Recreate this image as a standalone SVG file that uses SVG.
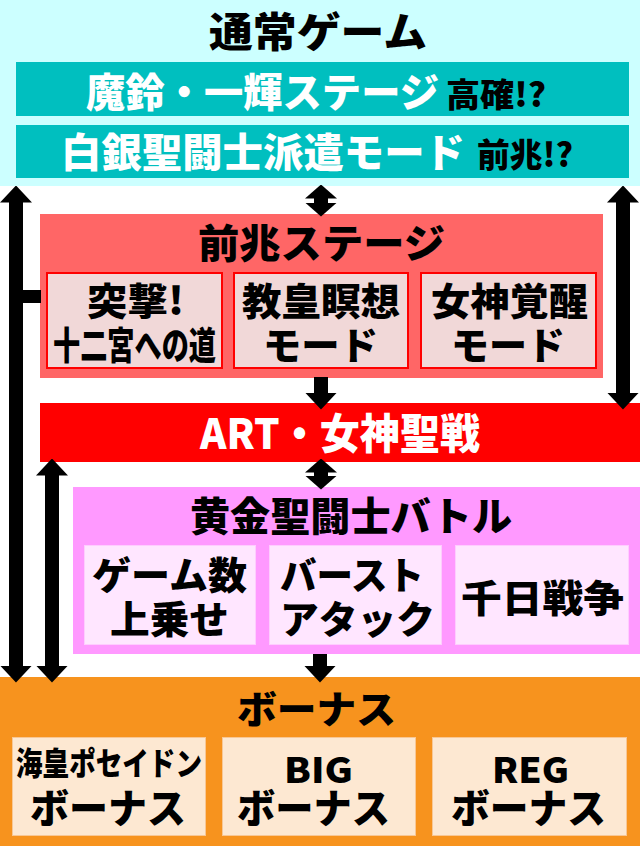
<svg xmlns="http://www.w3.org/2000/svg" width="640" height="846" viewBox="0 0 640 846">
<style>
text{font-family:"Noto Sans CJK JP","Noto Sans",sans-serif;font-weight:900;dominant-baseline:central;fill:#000}
.w{fill:#fff}
.s{lengthAdjust:spacingAndGlyphs}
.teal{fill:#00bfbf}
.sub1{fill:#f1d8d8;stroke:#ff0000;stroke-width:2}
.sub2{fill:#ffe6ff;stroke:#ffccff;stroke-width:1}
.sub3{fill:#fde8d2;stroke:#f8c795;stroke-width:1}
.conn line{stroke:#000;stroke-width:14}
</style>
<defs>
<marker id="ah" viewBox="0 0 17 32" refX="0.5" refY="16" markerWidth="17" markerHeight="32" markerUnits="userSpaceOnUse" orient="auto-start-reverse"><path d="M0,0 L17,16 L0,32 Z" fill="#000"/></marker>
<marker id="ahs" viewBox="0 0 14 32" refX="0.5" refY="16" markerWidth="14" markerHeight="32" markerUnits="userSpaceOnUse" orient="auto-start-reverse"><path d="M0,0 L14,16 L0,32 Z" fill="#000"/></marker>
</defs>
<rect width="640" height="846" fill="#fff"/>

<g id="normal">
<rect x="0" y="0" width="640" height="186" fill="#ccffff"/>
<text x="209" y="29" font-size="41" textLength="218" lengthAdjust="spacingAndGlyphs">通常ゲーム</text>
</g>
<g id="marin">
<rect class="teal" x="16" y="62" width="613" height="54"/>
<text class="w" x="86" y="90" font-size="40" textLength="353" lengthAdjust="spacingAndGlyphs">魔鈴・一輝ステージ</text>
<text x="446" y="93" font-size="33" textLength="100" lengthAdjust="spacingAndGlyphs">高確!?</text>
</g>
<g id="silver">
<rect class="teal" x="16" y="125" width="613" height="53"/>
<text class="w" x="61" y="150" font-size="40" textLength="404" lengthAdjust="spacingAndGlyphs">白銀聖闘士派遣モード</text>
<text x="477" y="153" font-size="33" textLength="96" lengthAdjust="spacingAndGlyphs">前兆!?</text>
</g>

<g id="zencho">
<rect x="40" y="214" width="563" height="164" fill="#ff6666"/>
<text x="198" y="241" font-size="40" textLength="247" lengthAdjust="spacingAndGlyphs">前兆ステージ</text>
</g>
<g id="totsugeki">
<rect class="sub1" x="47" y="273" width="175" height="95"/>
<text x="87" y="298" font-size="38" textLength="97" lengthAdjust="spacingAndGlyphs">突撃!</text>
<text x="53" y="342" font-size="38" textLength="163" lengthAdjust="spacingAndGlyphs">十二宮への道</text>
</g>
<g id="kyoukou">
<rect class="sub1" x="234" y="273" width="174" height="95"/>
<text x="242" y="298" font-size="38" textLength="158" lengthAdjust="spacingAndGlyphs">教皇瞑想</text>
<text x="263" y="342" font-size="38" textLength="115" lengthAdjust="spacingAndGlyphs">モード</text>
</g>
<g id="megami">
<rect class="sub1" x="421" y="273" width="175" height="95"/>
<text x="431" y="298" font-size="38" textLength="157" lengthAdjust="spacingAndGlyphs">女神覚醒</text>
<text x="451" y="342" font-size="38" textLength="114" lengthAdjust="spacingAndGlyphs">モード</text>
</g>

<g id="art">
<rect x="40" y="403" width="600" height="59" fill="#ff0000"/>
<text class="w" x="200" y="430" font-size="42" textLength="280" lengthAdjust="spacingAndGlyphs">ART・女神聖戦</text>
</g>

<g id="gold">
<rect x="73" y="487" width="567" height="167" fill="#ff99ff"/>
<text x="190" y="514" font-size="40" textLength="322" lengthAdjust="spacingAndGlyphs">黄金聖闘士バトル</text>
</g>
<g id="gamesu">
<rect class="sub2" x="84.5" y="545.5" width="171" height="99"/>
<text x="92" y="572" font-size="38" textLength="155" lengthAdjust="spacingAndGlyphs">ゲーム数</text>
<text x="110" y="616" font-size="38" textLength="119" lengthAdjust="spacingAndGlyphs">上乗せ</text>
</g>
<g id="burst">
<rect class="sub2" x="269.5" y="545.5" width="172" height="99"/>
<text x="280" y="572" font-size="38" textLength="144" lengthAdjust="spacingAndGlyphs">バースト</text>
<text x="280" y="616" font-size="38" textLength="155" lengthAdjust="spacingAndGlyphs">アタック</text>
</g>
<g id="sennichi">
<rect class="sub2" x="455.5" y="545.5" width="173" height="99"/>
<text x="461" y="595" font-size="38" textLength="163" lengthAdjust="spacingAndGlyphs">千日戦争</text>
</g>

<g id="bonus">
<rect x="0" y="677" width="640" height="169" fill="#f7931e"/>
<text x="237" y="706" font-size="38" textLength="159" lengthAdjust="spacingAndGlyphs">ボーナス</text>
</g>
<g id="poseidon">
<rect class="sub3" x="12.5" y="737.5" width="193" height="98"/>
<text x="16" y="761" font-size="32" textLength="186" lengthAdjust="spacingAndGlyphs">海皇ポセイドン</text>
<text x="30" y="806" font-size="40" textLength="156" lengthAdjust="spacingAndGlyphs">ボーナス</text>
</g>
<g id="big">
<rect class="sub3" x="222.5" y="737.5" width="193" height="98"/>
<text x="284" y="767" font-size="35" textLength="69" lengthAdjust="spacingAndGlyphs">BIG</text>
<text x="237" y="806" font-size="40" textLength="153" lengthAdjust="spacingAndGlyphs">ボーナス</text>
</g>
<g id="reg">
<rect class="sub3" x="432.5" y="737.5" width="194" height="98"/>
<text x="492" y="767" font-size="35" textLength="77" lengthAdjust="spacingAndGlyphs">REG</text>
<text x="451" y="806" font-size="40" textLength="155" lengthAdjust="spacingAndGlyphs">ボーナス</text>
</g>

<g id="connectors" class="conn">
<line x1="16" y1="202" x2="16" y2="666" marker-start="url(#ah)" marker-end="url(#ah)"/>
<rect x="16" y="290" width="25" height="13" fill="#000"/>
<line x1="623" y1="202" x2="623" y2="393" marker-start="url(#ah)" marker-end="url(#ah)"/>
<line x1="321" y1="198" x2="321" y2="203" marker-start="url(#ahs)" marker-end="url(#ahs)"/>
<line x1="321" y1="377" x2="321" y2="393" marker-end="url(#ah)"/>
<line x1="321" y1="472" x2="321" y2="476" marker-start="url(#ahs)" marker-end="url(#ahs)"/>
<line x1="52" y1="475" x2="52" y2="666" marker-start="url(#ah)" marker-end="url(#ah)"/>
<line x1="320" y1="654" x2="320" y2="666" marker-end="url(#ah)"/>
</g>
</svg>
